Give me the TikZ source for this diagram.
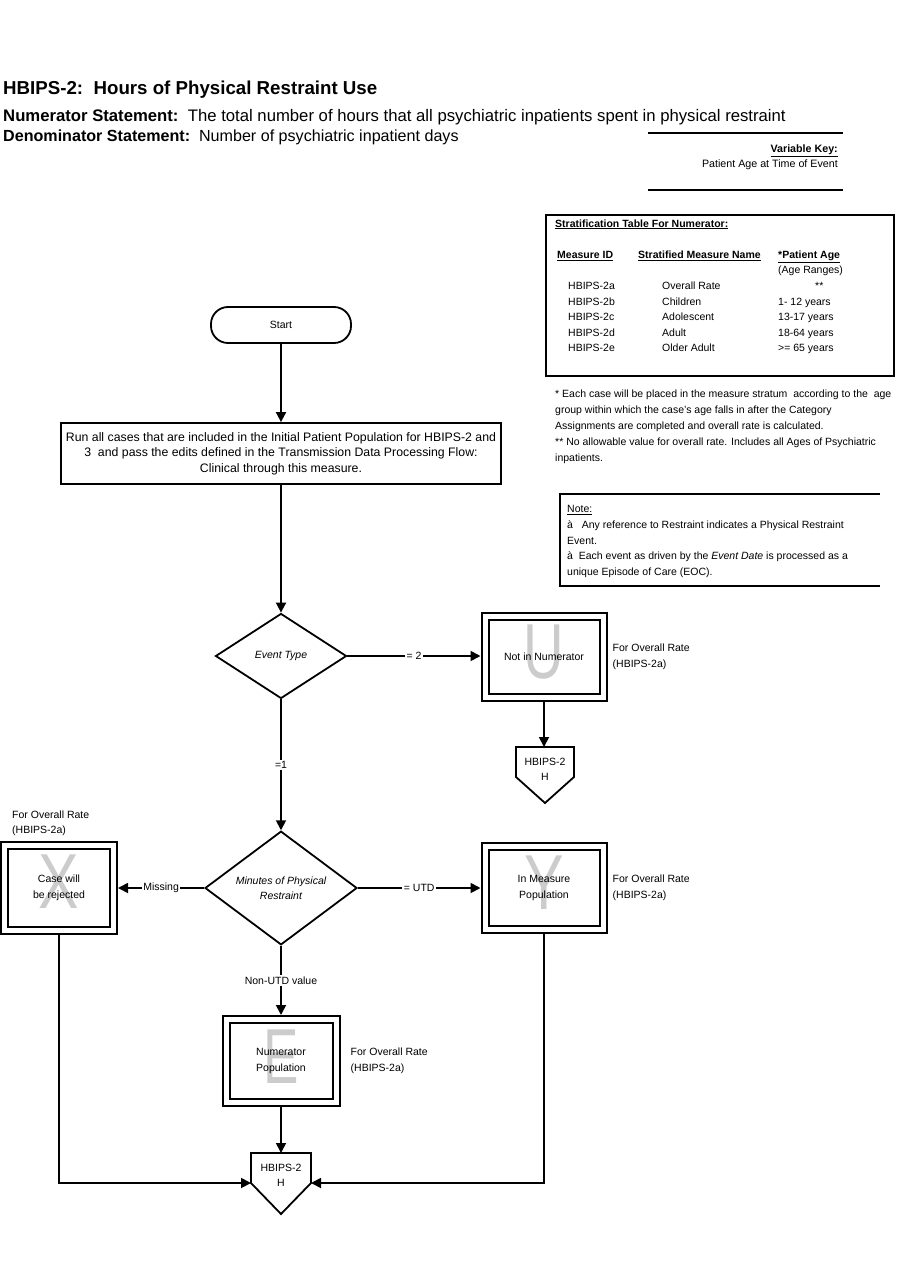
\documentclass[tikz,border=0pt]{standalone}
\usepackage{fontspec}
\setmainfont{Liberation Sans}
\usepackage{tikz}
\usetikzlibrary{arrows,arrows.meta,shapes,positioning}
\definecolor{lettergray}{RGB}{204,204,204}
\tikzstyle{flow} = [->,line width=1.8pt,black]

\begin{document}
\begin{tikzpicture}[x=1pt,y=-1pt,>={Triangle[length=10pt,width=10pt]},font=\fontsize{10.5}{15.6}\selectfont]
    \tikzstyle{term}=[rectangle,rounded corners=17pt,draw,line width=1.8pt,minimum width=140pt,minimum height=36pt]
    \tikzstyle{proc}=[rectangle,draw,line width=1.8pt,align=center,minimum width=440pt,minimum height=61pt,font=\fontsize{12.3}{15.5}\selectfont]
    \tikzstyle{decision}=[diamond,draw,line width=1.8pt,inner sep=0pt,align=center,font=\fontsize{10.5}{15.5}\selectfont\itshape]
    \tikzstyle{outcome}=[rectangle,draw,line width=2pt,double,double distance=5pt,outer sep=4.5pt,align=center,minimum width=118pt,minimum height=83pt]
    \tikzstyle{bigletter}=[text=lettergray,font=\fontsize{78}{78}\selectfont,inner sep=0pt]
    \tikzstyle{conn}=[align=center,inner sep=0pt]
    \tikzstyle{side}=[align=left,inner sep=0pt]
    \tikzstyle{lbl}=[fill=white,inner sep=1.5pt]
    \useasboundingbox (0,0) rectangle (901,1287);
    % heading
    \node[anchor=base west,inner sep=0pt,font=\fontsize{18.7}{22}\selectfont\bfseries] (title) at (3,95) {HBIPS-2:\ \ Hours of Physical Restraint Use};
    \node[anchor=base west,inner sep=0pt,font=\fontsize{16.7}{20}\selectfont] (num) at (3,122) {\textbf{Numerator Statement:}\ \ The total number of hours that all psychiatric inpatients spent in physical restraint};
    \node[anchor=base west,inner sep=0pt,font=\fontsize{16.1}{20}\selectfont] (den) at (3,142) {\textbf{Denominator Statement:}\ \ Number of psychiatric inpatient days};
    % variable key
    \draw[line width=2pt] (648,133) -- (843,133);
    \node[anchor=base east,inner sep=0pt,font=\fontsize{10.7}{12}\selectfont\bfseries] (vk) at (838,153) {\underline{Variable Key:}};
    \node[anchor=base east,inner sep=0pt,font=\fontsize{10.7}{12}\selectfont] (age) at (838,167) {Patient Age at Time of Event};
    \draw[line width=2pt] (648,190) -- (843,190);
    % stratification table
    \node[draw,line width=1.8pt,minimum width=348pt,minimum height=161pt,anchor=north west] (strat) at (545,214) {};
    \node[anchor=north west,inner sep=0pt] (strattab) at (555,216) {%
      \begin{tabular}{@{}p{83pt}@{}p{140pt}@{}l@{}}
        \multicolumn{3}{@{}l@{}}{\textbf{\underline{Stratification Table For Numerator:}}}\\
        & & \\
        \hspace{2pt}\textbf{\underline{Measure ID}} & \textbf{\underline{Stratified Measure Name}} & \textbf{\underline{*Patient Age}}\\
        & & (Age Ranges)\\
        \hspace{13pt}HBIPS-2a & \hspace{24pt}Overall Rate & \hspace{37pt}**\\
        \hspace{13pt}HBIPS-2b & \hspace{24pt}Children & 1- 12 years\\
        \hspace{13pt}HBIPS-2c & \hspace{24pt}Adolescent & 13-17 years\\
        \hspace{13pt}HBIPS-2d & \hspace{24pt}Adult & 18-64 years\\
        \hspace{13pt}HBIPS-2e & \hspace{24pt}Older Adult & >= 65 years\\
      \end{tabular}};
    \node[anchor=north west,inner sep=0pt,align=left,font=\fontsize{10.5}{15.8}\selectfont] (foot) at (555,390) {* Each case will be placed in the measure stratum\ \ according to the\ \ age\\group within which the case's age falls in after the Category\\Assignments are completed and overall rate is calculated.\\** No allowable value for overall rate. Includes all Ages of Psychiatric\\inpatients.};
    % note
    \draw[line width=1.8pt] (880,494) -| (560,586) -- (880,586);
    \node[anchor=north west,inner sep=0pt,align=left,font=\fontsize{10.5}{15.8}\selectfont] (note) at (567,505) {\underline{Note:}\\à\ \ \ Any reference to Restraint indicates a Physical Restraint\\Event.\\à\ \ Each event as driven by the \textit{Event Date} is processed as a\\unique Episode of Care (EOC).};
    % grey letters
    \node[bigletter] (lu) at (544,652) {\scalebox{0.72}[1]{U}};
    \node[bigletter] (lx) at (59,882) {\scalebox{0.78}[1]{X}};
    \node[bigletter] (ly) at (544,883) {\scalebox{0.76}[1]{Y}};
    \node[bigletter] (le) at (281,1057) {\scalebox{0.68}[1]{E}};
    % flow
    \node[term] (start) at (281,325) {Start};
    \node[proc] (run) at (281,453.5) {Run all cases that are included in the Initial Patient Population for HBIPS-2 and\\3\ \ and pass the edits defined in the Transmission Data Processing Flow:\\Clinical through this measure.};
    \node[decision,minimum width=131pt,minimum height=85pt] (evt) at (281,656) {Event Type};
    \node[outcome,minimum height=81pt] (u) at (544,657) {Not in Numerator};
    \node[side,right=5pt of u] (ul) {For Overall Rate\\(HBIPS-2a)};
    \node[conn] (h1) at (545,769.5) {HBIPS-2\\H};
    \coordinate (h1n) at (545,747);
    \coordinate (h1w) at (516,777);
    \coordinate (h1e) at (574,777);
    \draw[line width=1.8pt] (h1w) |- (h1n) -| (h1e) -- ++(-29,26) -- cycle;
    \node[decision,minimum width=152pt,minimum height=83pt] (min) at (281,888) {Minutes of Physical\\Restraint};
    \node[outcome,minimum width=109pt,minimum height=85pt] (x) at (59,888) {Case will\\be rejected};
    \node[side,anchor=south west] (xl) at (12,836) {For Overall Rate\\(HBIPS-2a)};
    \node[outcome] (y) at (544,888) {In Measure\\Population};
    \node[side,right=5pt of y] (yl) {For Overall Rate\\(HBIPS-2a)};
    \node[outcome,minimum width=110pt] (e) at (281,1061) {Numerator\\Population};
    \node[side,right=10pt of e] (el) {For Overall Rate\\(HBIPS-2a)};
    \node[conn] (h2) at (281,1175.5) {HBIPS-2\\H};
    \coordinate (h2n) at (281,1153);
    \coordinate (h2w) at (251,1183);
    \coordinate (h2e) at (311,1183);
    \draw[line width=1.8pt] (h2w) |- (h2n) -| (h2e) -- ++(-30,31) -- cycle;
    % connectors
    \draw[flow] (start) -- (run);
    \draw[flow] (run) -- (evt);
    \draw[flow] (evt) -- node[lbl] (l2) {= 2} (evt -| u.west);
    \draw[flow] (u) -- (u |- h1n);
    \draw[flow] (evt) -- node[lbl] (l1) {=1} (min);
    \draw[flow] (min) -- node[lbl] (lm) {Missing} (x);
    \draw[flow] (min) -- node[lbl] (lutd) {= UTD} (y);
    \draw[flow] (min) -- node[lbl] (lval) {Non-UTD value} (e);
    \draw[flow] (e) -- (h2n);
    \draw[flow] (x) |- (h2w);
    \draw[flow] (y) |- (h2e);
\end{tikzpicture}
\end{document}
